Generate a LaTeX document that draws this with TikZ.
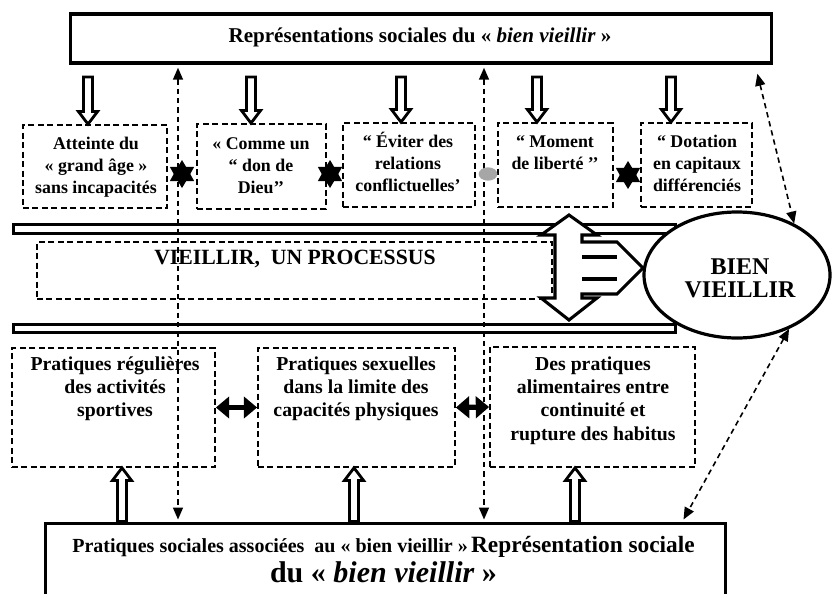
\documentclass[tikz,border=0pt]{standalone}
\usepackage{fontspec}
\setmainfont{Liberation Serif}
\usetikzlibrary{arrows.meta,shapes.geometric,calc}
\newcommand\hollowarrow[2]{%
  \draw[hollow] let \p1=(#1), \p2=(#2), \p3=($(#2)!9.5pt!(#1)$) in
    (\x1-3.4pt,\y1) -- (\x1-3.4pt,\y3) -- (\x1-7.2pt,\y3) -- (\x2,\y2) --
    (\x1+7.2pt,\y3) -- (\x1+3.4pt,\y3) -- (\x1+3.4pt,\y1) -- cycle;}
\begin{document}
\begin{tikzpicture}[x=0.75pt,y=-0.75pt,
  solidbox/.style={draw, rectangle, line width=2.6pt, inner sep=0},
  dbox/.style={draw, rectangle, line width=1.3pt, dash pattern=on 4.5pt off 2.6pt, inner sep=0},
  bar/.style={draw, line width=2.6pt},
  hollow/.style={draw, fill=white, line width=2.1pt},
  dline/.style={line width=1.2pt, dash pattern=on 4pt off 3pt,
    {Triangle[length=9pt,width=7.5pt]}-{Triangle[length=9pt,width=7.5pt]}},
  fatdbl/.style={line width=4pt, {Triangle[length=10pt,width=16pt]}-{Triangle[length=10pt,width=16pt]}},
  startag/.style={star, star points=6, star point ratio=1.7, fill=black, minimum size=21pt, inner sep=0},
  t2/.style={font=\fontsize{13.4}{16.5}\selectfont\bfseries, align=center, anchor=north, inner sep=0},
  t3/.style={font=\fontsize{14.8}{17.5}\selectfont\bfseries, align=center, anchor=north, inner sep=0},
]
\useasboundingbox (0,0) rectangle (835,593);
\fill[white] (0,0) rectangle (835,593);

% coordinates
\coordinate (hs) at (0,77);
\coordinate (hx1) at (88,0);
\coordinate (hx2) at (251,0);
\coordinate (hx3) at (401,0);
\coordinate (hx4) at (537,0);
\coordinate (hx5) at (671,0);
\coordinate (ux1) at (122,0);
\coordinate (ux2) at (354,0);
\coordinate (ux3) at (575,0);
\coordinate (dx1) at (178,0);
\coordinate (dx2) at (484,0);

% top box
\node[solidbox, minimum width=526pt, minimum height=36.75pt] (top) at (421,38.5) {};
\node[anchor=base, font=\fontsize{15.8}{18}\selectfont\bfseries] at (420,42.5)
  {Représentations sociales du « \textit{bien vieillir} »};

% row 2 boxes
\node[dbox, minimum width=108pt, minimum height=62.25pt] (a1) at (95,166.5) {};
\node[dbox, minimum width=96.75pt, minimum height=63.75pt] (a2) at (261.5,166.5) {};
\node[dbox, minimum width=99pt, minimum height=63pt] (a3) at (409,165) {};
\node[dbox, minimum width=86.25pt, minimum height=63pt] (a4) at (555.5,165) {};
\node[dbox, minimum width=83.25pt, minimum height=63pt] (a5) at (696.5,165) {};
\node[t2] at (96,134) {\strut Atteinte du\\« grand âge »\\sans incapacités};
\node[t2] at (261,134) {\strut « Comme un\\“ don de\\Dieu’’};
\node[t2] at (408,132) {\strut “ Éviter des\\relations\\conflictuelles’};
\node[t2] at (555,132) {\strut “ Moment\\de liberté ’’};
\node[t2] at (697,132) {\strut “ Dotation\\en capitaux\\différenciés};

% bars
\draw[bar] (13.75,224.75) rectangle (675.25,233.25);
\draw[bar] (13.75,324.75) rectangle (675.25,332.25);

% process box
\node[dbox, minimum width=386.25pt, minimum height=42.75pt] (proc) at (294.5,270.5) {};
\node[anchor=base, font=\fontsize{16.3}{19}\selectfont\bfseries] at (295,264) {VIEILLIR,\ \ UN PROCESSUS};

% row 3 boxes
\node[dbox, minimum width=152.25pt, minimum height=89.25pt] (b1) at (113.5,407.5) {};
\node[dbox, minimum width=147.75pt, minimum height=89.25pt] (b2) at (356.5,407.5) {};
\node[dbox, minimum width=153.75pt, minimum height=90pt] (b3) at (592.5,407) {};
\node[t3] at (115,353.7) {\strut Pratiques régulières\\des activités\\sportives};
\node[t3] at (356,353.7) {\strut Pratiques sexuelles\\dans la limite des\\capacités physiques};
\node[t3] at (593,353.7) {\strut Des pratiques\\alimentaires entre\\continuité et\\rupture des habitus};

% bottom box
\node[draw, rectangle, line width=2.25pt, inner sep=0, minimum width=510pt, minimum height=65.25pt] (bot) at (385,566.5) {};
\node[anchor=base, font=\bfseries] at (383.5,552)
  {{\fontsize{15}{18}\selectfont Pratiques sociales associées\ \ au « bien vieillir »} {\fontsize{17.5}{20}\selectfont Représentation sociale}};
\node[anchor=base, font=\fontsize{22.5}{26}\selectfont\bfseries] at (383.5,582) {du « \textit{bien vieillir} »};

% big three-way arrow
\draw[line width=2.3pt, fill=white, line join=miter]
  (569,215) -- (597,235) -- (582,235) -- (582,242) -- (617,242) -- (643,268) --
  (617,294) -- (582,294) -- (582,298) -- (597,298) -- (569,320) -- (541,298) --
  (555,298) -- (555,235) -- (541,235) -- cycle;
\draw[line width=2.3pt] (582,257) -- (617,257);
\draw[line width=2.3pt] (582,279) -- (617,279);

% ellipse
\node[draw, ellipse, line width=2.4pt, fill=white, inner sep=0, minimum width=139.5pt, minimum height=94.5pt] (bien) at (737,275) {};
\node[anchor=base, font=\fontsize{18}{20}\selectfont\bfseries] at (740,274) {BIEN};
\node[anchor=base, font=\fontsize{18}{20}\selectfont\bfseries] at (740,297) {VIEILLIR};

% hollow arrows top
\hollowarrow{hs -| hx1}{a1.north -| hx1}
\hollowarrow{hs -| hx2}{a2.north -| hx2}
\hollowarrow{hs -| hx3}{a3.north -| hx3}
\hollowarrow{hs -| hx4}{a4.north -| hx4}
\hollowarrow{hs -| hx5}{a5.north -| hx5}

% hollow arrows bottom
\hollowarrow{bot.north -| ux1}{b1.south -| ux1}
\hollowarrow{bot.north -| ux2}{b2.south -| ux2}
\hollowarrow{bot.north -| ux3}{b3.south -| ux3}

% dashed long arrows
\draw[dline] ($(top.south -| dx1)+(0,3)$) -- ($(bot.north -| dx1)+(0,-2)$);
\draw[dline] ($(top.south -| dx2)+(0,3)$) -- ($(bot.north -| dx2)+(0,-2)$);
\coordinate (rt) at ($(top.south east)+(-16,9)$);
\draw[dline] (rt) -- (bien.42);
\draw[dline] (bien.-46) -- ($(bot.north east)+(-43,-2)$);

% stars between row-2 boxes
\node[startag] (s1) at (182,174) {};
\node[startag] (s2) at (330,174) {};
\node[ellipse, fill=gray!70, inner sep=0, minimum width=14pt, minimum height=10pt] (s3) at (488,174) {};
\node[startag] (s4) at (628,175) {};

% fat double arrows row 3
\draw[fatdbl] (b1.east) -- (b2.west);
\draw[fatdbl] (b2.east) -- (b3.west);
\end{tikzpicture}
\end{document}
